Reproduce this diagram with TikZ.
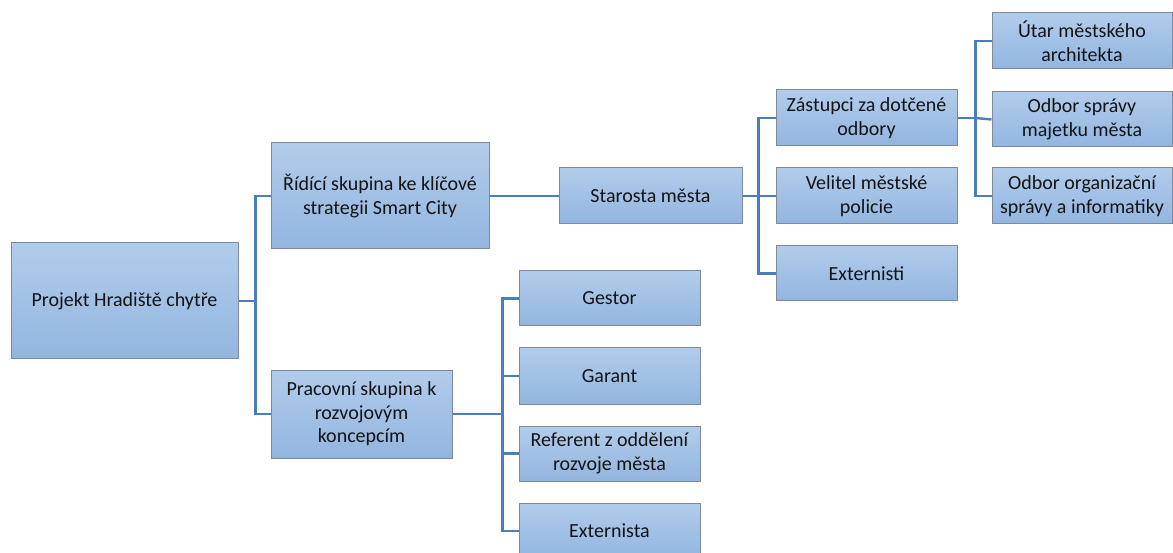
\documentclass[tikz,border=0pt]{standalone}
\usepackage{fontspec}
\setmainfont{Carlito}
\definecolor{boxtop}{HTML}{B2CCEB}
\definecolor{boxbot}{HTML}{92B5E0}
\definecolor{boxline}{HTML}{7D8A9C}
\definecolor{linkblue}{HTML}{4A7EBB}
\tikzset{
  orgbox/.style={draw=boxline, line width=1pt, top color=boxtop, bottom color=boxbot,
    rectangle, inner sep=0pt, align=center, text=black!92,
    font=\fontsize{20}{23.5}\selectfont},
  link/.style={draw=linkblue, line width=2.4pt},
}
\newcommand{\orgnode}[6]{%
  \node[orgbox, minimum width=#4pt, minimum height=#5pt] (#1) at (#2,#3) {#6};}
\begin{document}
\begin{tikzpicture}[x=1pt,y=-1pt]
\useasboundingbox (0,0) rectangle (1173,553);
% boxes
\orgnode{root}{124.5}{301}{227}{116}{Projekt Hradiště chytře}
\orgnode{ridici}{380}{196}{218}{106}{Řídící skupina ke klíčové\\strategii Smart City}
\orgnode{pracovni}{361.5}{414}{181}{88}{Pracovní skupina k\\rozvojovým\\koncepcím}
\orgnode{starosta}{650.5}{196}{183}{56}{Starosta města}
\orgnode{zastupci}{866.5}{118}{181}{56}{Zástupci za dotčené\\odbory}
\orgnode{velitel}{866.5}{196}{181}{56}{Velitel městské\\policie}
\orgnode{externisti}{866.5}{273.5}{181}{55}{Externisti}
\orgnode{utar}{1082}{41}{180}{56}{Útar městského\\architekta}
\orgnode{majetek}{1082}{119.5}{180}{55}{Odbor správy\\majetku města}
\orgnode{organizacni}{1082}{196}{180}{56}{Odbor organizační\\správy a informatiky}
\orgnode{gestor}{609.5}{298.5}{181}{55}{Gestor}
\orgnode{garant}{609.5}{376}{181}{56}{Garant}
\orgnode{referent}{609.5}{453.5}{181}{55}{Referent z oddělení\\rozvoje města}
\orgnode{externista}{609.5}{531}{181}{56}{Externista}
% elbow connectors from each parent to its children
\draw[link] (root.east) -- ++(17,0) coordinate (t1) |- (ridici.west);
\draw[link] (t1) |- (pracovni.west);
\draw[link] (ridici.east) -- (starosta.west);
\draw[link] (starosta.east) -- ++(16,0) coordinate (t2) |- (zastupci.west);
\draw[link] (t2) -- (velitel.west);
\draw[link] (t2) |- (externisti.west);
\draw[link] (zastupci.east) -- ++(18,0) coordinate (t3) |- (utar.west);
\draw[link] (t3) -- (majetek.west);
\draw[link] (t3) |- (organizacni.west);
\draw[link] (pracovni.east) -- ++(50,0) coordinate (t4) |- (gestor.west);
\draw[link] (t4) |- (garant.west);
\draw[link] (t4) |- (referent.west);
\draw[link] (t4) |- (externista.west);
\end{tikzpicture}
\end{document}
